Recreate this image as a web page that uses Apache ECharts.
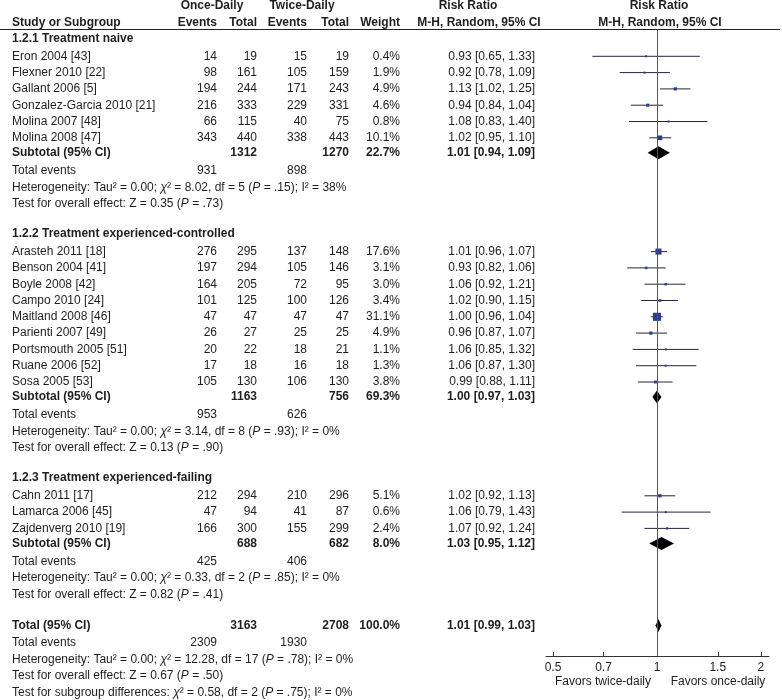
<!DOCTYPE html>
<html>
<head>
<meta charset="utf-8">
<script src="https://cdn.jsdelivr.net/npm/echarts@6/dist/echarts.min.js"></script>
<style>
  html, body { margin: 0; padding: 0; background: #fff; }
  #main { width: 782px; height: 700px; }
</style>
</head>
<body>
<div id="main"></div>
<script>
// studies
var groups = ['1.2.1 Treatment naive', '1.2.2 Treatment experienced-controlled', '1.2.3 Treatment experienced-failing'];
var studyGroup = [0, 0, 0, 0, 0, 0, 1, 1, 1, 1, 1, 1, 1, 1, 1, 2, 2, 2];
var studies = ['Eron 2004 [43]', 'Flexner 2010 [22]', 'Gallant 2006 [5]', 'Gonzalez-Garcia 2010 [21]', 'Molina 2007 [48]', 'Molina 2008 [47]',
  'Arasteh 2011 [18]', 'Benson 2004 [41]', 'Boyle 2008 [42]', 'Campo 2010 [24]', 'Maitland 2008 [46]', 'Parienti 2007 [49]',
  'Portsmouth 2005 [51]', 'Ruane 2006 [52]', 'Sosa 2005 [53]',
  'Cahn 2011 [17]', 'Lamarca 2006 [45]', 'Zajdenverg 2010 [19]'];
var onceEvents = [14, 98, 194, 216, 66, 343, 276, 197, 164, 101, 47, 26, 20, 17, 105, 212, 47, 166];
var onceTotal = [19, 161, 244, 333, 115, 440, 295, 294, 205, 125, 47, 27, 22, 18, 130, 294, 94, 300];
var twiceEvents = [15, 105, 171, 229, 40, 338, 137, 105, 72, 100, 47, 25, 18, 16, 106, 210, 41, 155];
var twiceTotal = [19, 159, 243, 331, 75, 443, 148, 146, 95, 126, 47, 25, 21, 18, 130, 296, 87, 299];
var weight = [0.4, 1.9, 4.9, 4.6, 0.8, 10.1, 17.6, 3.1, 3.0, 3.4, 31.1, 4.9, 1.1, 1.3, 3.8, 5.1, 0.6, 2.4];
var rr = [0.93, 0.92, 1.13, 0.94, 1.08, 1.02, 1.01, 0.93, 1.06, 1.02, 1.00, 0.96, 1.06, 1.06, 0.99, 1.02, 1.06, 1.07];
var rrLo = [0.65, 0.78, 1.02, 0.84, 0.83, 0.95, 0.96, 0.82, 0.92, 0.90, 0.96, 0.87, 0.85, 0.87, 0.88, 0.92, 0.79, 0.92];
var rrHi = [1.33, 1.09, 1.25, 1.04, 1.40, 1.10, 1.07, 1.06, 1.21, 1.15, 1.04, 1.07, 1.32, 1.30, 1.11, 1.13, 1.43, 1.24];

// subtotals (per group)
var subOnceTotal = [1312, 1163, 688];
var subTwiceTotal = [1270, 756, 682];
var subWeight = [22.7, 69.3, 8.0];
var subRR = [1.01, 1.00, 1.03];
var subLo = [0.94, 0.97, 0.95];
var subHi = [1.09, 1.03, 1.12];
var subOnceEvents = [931, 953, 425];
var subTwiceEvents = [898, 626, 406];
var subChi = ['8.02', '3.14', '0.33'];
var subDf = [5, 8, 2];
var subHetP = ['.15', '.93', '.85'];
var subI2 = ['38%', '0%', '0%'];
var subZ = ['0.35', '0.13', '0.82'];
var subZP = ['.73', '.90', '.41'];

// overall
var totOnceTotal = 3163, totTwiceTotal = 2708, totWeight = 100.0;
var totRR = 1.01, totLo = 0.99, totHi = 1.03;
var totOnceEvents = 2309, totTwiceEvents = 1930;
var totChi = '12.28', totDf = 17, totHetP = '.78', totI2 = '0%';
var totZ = '0.67', totZP = '.50';
var diffChi = '0.58', diffDf = 2, diffP = '.75', diffI2 = '0%';

var tickValues = [0.5, 0.7, 1, 1.5, 2];

// layout
var FONT = '"Liberation Sans", Arial, sans-serif';
var INK = '#1e1e1e';
var COL = { name: 12, oe: 217, ot: 257, te: 307, tt: 349, w: 400, rr: 535 };

function fmtRR(a, l, h) { return a.toFixed(2) + ' [' + l.toFixed(2) + ', ' + h.toFixed(2) + ']'; }
function hetText(chi, df, p, i2) {
  return 'Heterogeneity: Tau\u00B2 = 0.00; {i|\u03C7}\u00B2 = ' + chi + ', df = ' + df + ' ({i|P} = ' + p + '); I\u00B2 = ' + i2;
}
function testText(z, p) { return 'Test for overall effect: Z = ' + z + ' ({i|P} = ' + p + ')'; }

var cells = [];
function cell(x, y, text, align, bold) { cells.push({ x: x, y: y, text: String(text), align: align || 'right', bold: !!bold }); }

// header
cell(212, 6, 'Once-Daily', 'center', true);
cell(302, 6, 'Twice-Daily', 'center', true);
cell(468, 6, 'Risk Ratio', 'center', true);
cell(659, 6, 'Risk Ratio', 'center', true);
cell(COL.name, 22.5, 'Study or Subgroup', 'left', true);
cell(COL.oe, 22.5, 'Events', 'right', true);
cell(COL.ot, 22.5, 'Total', 'right', true);
cell(COL.te, 22.5, 'Events', 'right', true);
cell(COL.tt, 22.5, 'Total', 'right', true);
cell(COL.w, 22.5, 'Weight', 'right', true);
cell(479, 22.5, 'M-H, Random, 95% CI', 'center', true);
cell(660, 22.5, 'M-H, Random, 95% CI', 'center', true);

var studyPts = [];
var diamonds = [];
var y = 38.5;
groups.forEach(function (g, gi) {
  if (gi > 0) y += 30;
  cell(COL.name, y, g, 'left', true);
  y += 1.5;
  studies.forEach(function (s, i) {
    if (studyGroup[i] !== gi) return;
    y += 16.3;
    cell(COL.name, y, s, 'left');
    cell(COL.oe, y, onceEvents[i]);
    cell(COL.ot, y, onceTotal[i]);
    cell(COL.te, y, twiceEvents[i]);
    cell(COL.tt, y, twiceTotal[i]);
    cell(COL.w, y, weight[i].toFixed(1) + '%');
    cell(COL.rr, y, fmtRR(rr[i], rrLo[i], rrHi[i]));
    studyPts.push([Math.log(rr[i]), y, Math.log(rrLo[i]), Math.log(rrHi[i]), weight[i]]);
  });
  y += 15;
  cell(COL.name, y, 'Subtotal (95% CI)', 'left', true);
  cell(COL.ot, y, subOnceTotal[gi], 'right', true);
  cell(COL.tt, y, subTwiceTotal[gi], 'right', true);
  cell(COL.w, y, subWeight[gi].toFixed(1) + '%', 'right', true);
  cell(COL.rr, y, fmtRR(subRR[gi], subLo[gi], subHi[gi]), 'right', true);
  diamonds.push([Math.log(subRR[gi]), y, Math.log(subLo[gi]), Math.log(subHi[gi])]);
  y += 18;
  cell(COL.name, y, 'Total events', 'left');
  cell(COL.oe, y, subOnceEvents[gi]);
  cell(COL.te, y, subTwiceEvents[gi]);
  y += 16.5;
  cell(COL.name, y, hetText(subChi[gi], subDf[gi], subHetP[gi], subI2[gi]), 'left');
  y += 16.5;
  cell(COL.name, y, testText(subZ[gi], subZP[gi]), 'left');
});
y += 31;
cell(COL.name, y, 'Total (95% CI)', 'left', true);
cell(COL.ot, y, totOnceTotal, 'right', true);
cell(COL.tt, y, totTwiceTotal, 'right', true);
cell(COL.w, y, totWeight.toFixed(1) + '%', 'right', true);
cell(COL.rr, y, fmtRR(totRR, totLo, totHi), 'right', true);
diamonds.push([Math.log(totRR), y, Math.log(totLo), Math.log(totHi)]);
y += 17.7;
cell(COL.name, y, 'Total events', 'left');
cell(COL.oe, y, totOnceEvents);
cell(COL.te, y, totTwiceEvents);
y += 16.4;
cell(COL.name, y, hetText(totChi, totDf, totHetP, totI2), 'left');
y += 16.4;
cell(COL.name, y, testText(totZ, totZP), 'left');
y += 16.3;
cell(COL.name, y, 'Test for subgroup differences: {i|\u03C7}\u00B2 = ' + diffChi + ', df = ' + diffDf + ' ({i|P} = ' + diffP + '); I\u00B2 = ' + diffI2, 'left');

cell(603, 682, 'Favors twice-daily', 'center');
cell(718, 682, 'Favors once-daily', 'center');

var chart = echarts.init(document.getElementById('main'), null, { renderer: 'canvas' });

var option = {
  backgroundColor: '#fff',
  animation: false,
  grid: [
    { left: 0, top: 0, width: 782, height: 700 },
    { left: 546, top: 0, width: 223, height: 656 }
  ],
  xAxis: [
    { gridIndex: 0, type: 'value', min: 0, max: 782, show: false },
    {
      gridIndex: 1, type: 'value', min: -0.74, max: 0.747, position: 'bottom',
      splitLine: { show: false },
      axisLine: { onZero: false, lineStyle: { color: '#333', width: 1 } },
      axisTick: { inside: true, length: 4, lineStyle: { color: '#333' }, customValues: tickValues.map(Math.log) },
      axisLabel: {
        customValues: tickValues.map(Math.log), margin: 6,
        color: INK, fontSize: 12, fontFamily: FONT,
        formatter: function (v) { return String(Math.round(Math.exp(v) * 10) / 10); }
      }
    }
  ],
  yAxis: [
    { gridIndex: 0, type: 'value', min: 0, max: 700, inverse: true, show: false },
    { gridIndex: 1, type: 'value', min: 0, max: 656, inverse: true, show: false }
  ],
  series: [
    {
      type: 'custom', xAxisIndex: 0, yAxisIndex: 0, silent: true,
      data: cells.map(function (c) { return [c.x, c.y]; }),
      renderItem: function (params, api) {
        var c = cells[params.dataIndex];
        var p = api.coord([api.value(0), api.value(1)]);
        return {
          type: 'text', x: p[0], y: p[1],
          style: {
            text: c.text, align: c.align, verticalAlign: 'middle',
            fontSize: 12, fontFamily: FONT, fontWeight: c.bold ? 'bold' : 'normal', fill: INK,
            rich: { i: { fontSize: 12, fontFamily: FONT, fontStyle: 'italic', fontWeight: c.bold ? 'bold' : 'normal', fill: INK } }
          }
        };
      },
      markLine: {
        silent: true, symbol: 'none', label: { show: false },
        lineStyle: { color: '#222', width: 1.2, type: 'solid' },
        data: [[{ coord: [0, 29.5] }, { coord: [780, 29.5] }]]
      }
    },
    {
      type: 'custom', xAxisIndex: 1, yAxisIndex: 1, silent: true, clip: false,
      data: studyPts,
      renderItem: function (params, api) {
        var c = api.coord([api.value(0), api.value(1)]);
        var a = api.coord([api.value(2), api.value(1)]);
        var b = api.coord([api.value(3), api.value(1)]);
        var s = Math.max(2, 1.45 * Math.sqrt(api.value(4)));
        return {
          type: 'group',
          children: [
            { type: 'line', shape: { x1: a[0], y1: a[1], x2: b[0], y2: b[1] }, style: { stroke: '#262638', lineWidth: 1 } },
            { type: 'rect', shape: { x: c[0] - s / 2, y: c[1] - s / 2, width: s, height: s }, style: { fill: '#2e3a8c' } }
          ]
        };
      },
      markLine: {
        silent: true, symbol: 'none', label: { show: false },
        lineStyle: { color: '#555', width: 1, type: 'solid' },
        data: [[{ coord: [0, 29.5] }, { coord: [0, 656] }]]
      }
    },
    {
      type: 'custom', xAxisIndex: 1, yAxisIndex: 1, silent: true, clip: false, z: 3,
      data: diamonds,
      renderItem: function (params, api) {
        var c = api.coord([api.value(0), api.value(1)]);
        var a = api.coord([api.value(2), api.value(1)]);
        var b = api.coord([api.value(3), api.value(1)]);
        var h = 6.5;
        return {
          type: 'polygon',
          shape: { points: [[a[0], c[1]], [c[0], c[1] - h], [b[0], c[1]], [c[0], c[1] + h]] },
          style: { fill: '#000' }
        };
      }
    }
  ]
};
chart.setOption(option);
</script>
</body>
</html>
